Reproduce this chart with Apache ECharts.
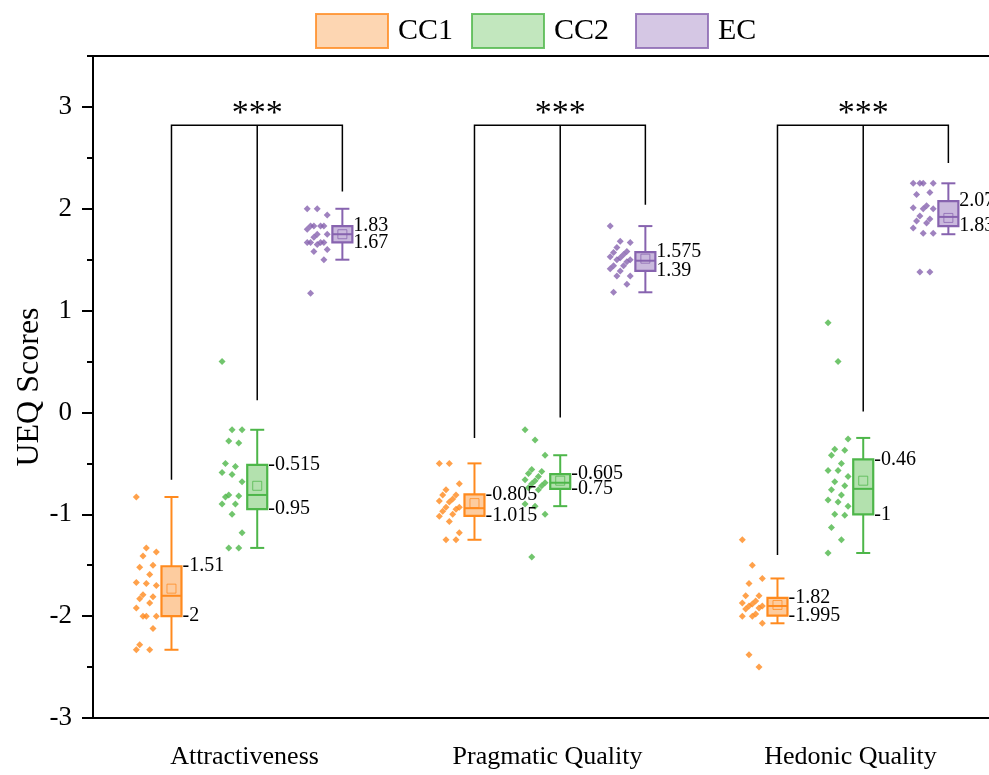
<!DOCTYPE html>
<html><head><meta charset="utf-8">
<script src="https://cdn.jsdelivr.net/npm/echarts@6/dist/echarts.min.js"></script>
<style>html,body{margin:0;padding:0;background:#fff}#c{width:989px;height:775px}</style>
</head><body><div id="c"></div>
<script>
// ---------- data ----------
const categories = ['Attractiveness', 'Pragmatic Quality', 'Hedonic Quality'];
const groups = ['CC1', 'CC2', 'EC'];
const yTickValues = [-3, -2, -1, 0, 1, 2, 3];
const yMinorValues = [-2.5, -1.5, -0.5, 0.5, 1.5, 2.5, 3.5];

// box stats per category: [whiskerLow, Q1, median, Q3, whiskerHigh]
const cc1Box = [[-2.33, -2, -1.8, -1.51, -0.83], [-1.25, -1.015, -0.94, -0.805, -0.5], [-2.07, -1.995, -1.9, -1.82, -1.63]];
const cc2Box = [[-1.33, -0.95, -0.81, -0.515, -0.17], [-0.92, -0.75, -0.69, -0.605, -0.42], [-1.38, -1, -0.75, -0.46, -0.25]];
const ecBox  = [[1.5, 1.67, 1.75, 1.83, 2.0], [1.18, 1.39, 1.49, 1.575, 1.83], [1.75, 1.83, 1.92, 2.075, 2.25]];
const cc1Mean = [-1.73, -0.89, -1.89];
const cc2Mean = [-0.72, -0.67, -0.67];
const ecMean  = [1.75, 1.51, 1.91];

// individual scores per category
const cc1Points = [
  [-0.83, -1.33, -1.37, -1.41, -1.5, -1.52, -1.59, -1.67, -1.68, -1.70, -1.79, -1.81, -1.83, -1.87, -1.92, -2.0, -2.0, -2.0, -2.12, -2.28, -2.33, -2.33],
  [-0.5, -0.5, -0.70, -0.76, -0.81, -0.81, -0.85, -0.87, -0.88, -0.93, -0.93, -0.95, -0.97, -1.0, -1.02, -1.07, -1.18, -1.25, -1.25],
  [-1.25, -1.5, -1.63, -1.68, -1.80, -1.80, -1.85, -1.87, -1.88, -1.90, -1.90, -1.92, -1.93, -1.98, -2.0, -2.0, -2.07, -2.38, -2.5]
];
const cc2Points = [
  [0.5, -0.17, -0.17, -0.28, -0.30, -0.50, -0.53, -0.59, -0.61, -0.68, -0.81, -0.82, -0.83, -0.90, -0.90, -1.0, -1.18, -1.33, -1.33],
  [-0.17, -0.27, -0.42, -0.56, -0.58, -0.60, -0.63, -0.66, -0.67, -0.69, -0.70, -0.72, -0.74, -0.76, -0.9, -0.92, -1.0, -1.42],
  [0.88, 0.5, -0.26, -0.36, -0.37, -0.42, -0.5, -0.57, -0.57, -0.63, -0.68, -0.72, -0.76, -0.81, -0.86, -0.88, -0.92, -1.0, -1.01, -1.13, -1.25, -1.38]
];
const ecPoints = [
  [2.0, 2.0, 1.94, 1.83, 1.83, 1.83, 1.83, 1.80, 1.75, 1.75, 1.72, 1.67, 1.67, 1.67, 1.67, 1.65, 1.60, 1.58, 1.5, 1.17],
  [1.83, 1.68, 1.67, 1.62, 1.58, 1.57, 1.55, 1.53, 1.52, 1.50, 1.50, 1.48, 1.44, 1.44, 1.41, 1.39, 1.34, 1.34, 1.26, 1.18],
  [2.25, 2.25, 2.25, 2.25, 2.16, 2.14, 2.03, 2.01, 2.0, 2.0, 1.93, 1.9, 1.88, 1.86, 1.81, 1.76, 1.76, 1.38, 1.38]
];

// significance brackets: lower ends of the drop lines (CC1, CC2, EC) and bracket height
const bracketEnds = [[-0.66, 0.12, 2.17], [-0.25, -0.05, 2.04], [-1.40, 0.01, 2.45]];
const bracketTop = 2.82;
const sigLabels = ['***', '***', '***'];

// ---------- style ----------
const FONT = "'Liberation Serif', 'Times New Roman', serif";
const strokes = ['#FF8A1E', '#4DB649', '#8763AF'];
const fills = ['#FDCC9F', '#B3E1AE', '#CAB9DD'];
const boxOffsets = [-0.241, 0.042, 0.323];
const scatterShift = -0.083;
const legendLefts = [315, 471, 635];

const boxes = [cc1Box, cc2Box, ecBox];
const means = [cc1Mean, cc2Mean, ecMean];
const points = [cc1Points, cc2Points, ecPoints];

function boxRender(stroke, fill) {
  return function (params, api) {
    const x = api.value(0);
    const pLo = api.coord([x, api.value(1)]);
    const pQ1 = api.coord([x, api.value(2)]);
    const pMd = api.coord([x, api.value(3)]);
    const pQ3 = api.coord([x, api.value(4)]);
    const pHi = api.coord([x, api.value(5)]);
    const pMn = api.coord([x, api.value(6)]);
    const cx = pLo[0], bw = 20, cw = 14;
    const ls = { stroke: stroke, lineWidth: 2 };
    const txt = (t, y) => ({ type: 'text', z2: 5, style: { text: t, x: cx + bw / 2 + 1, y: y, align: 'left', verticalAlign: 'middle', fill: '#000', fontSize: 20, fontFamily: FONT } });
    return {
      type: 'group', children: [
        { type: 'line', shape: { x1: cx, y1: pQ3[1], x2: cx, y2: pHi[1] }, style: ls },
        { type: 'line', shape: { x1: cx - cw / 2, y1: pHi[1], x2: cx + cw / 2, y2: pHi[1] }, style: ls },
        { type: 'line', shape: { x1: cx, y1: pQ1[1], x2: cx, y2: pLo[1] }, style: ls },
        { type: 'line', shape: { x1: cx - cw / 2, y1: pLo[1], x2: cx + cw / 2, y2: pLo[1] }, style: ls },
        { type: 'rect', shape: { x: cx - bw / 2, y: pQ3[1], width: bw, height: pQ1[1] - pQ3[1] }, style: { fill: fill, stroke: stroke, lineWidth: 2.2 } },
        { type: 'line', shape: { x1: cx - bw / 2, y1: pMd[1], x2: cx + bw / 2, y2: pMd[1] }, style: ls },
        { type: 'rect', shape: { x: cx - 4.5, y: pMn[1] - 4.5, width: 9, height: 9 }, style: { fill: 'none', stroke: stroke, lineWidth: 1, opacity: 0.75 } },
        txt(String(api.value(4)), pQ3[1]),
        txt(String(api.value(2)), pQ1[1])
      ]
    };
  };
}

const series = [];
groups.forEach((g, gi) => {
  const scatterData = [];
  points[gi].forEach((arr, ci) => {
    arr.forEach((v, i) => {
      const jit = (((i * 3) % 7) - 3) * 0.011;
      scatterData.push([ci + 1 + boxOffsets[gi] + scatterShift + jit, v]);
    });
  });
  series.push({
    name: g, type: 'scatter', xAxisIndex: 1, yAxisIndex: 0,
    symbol: 'diamond', symbolSize: 7,
    itemStyle: { color: strokes[gi] },
    data: scatterData, z: 3
  });
  series.push({
    name: g, type: 'custom', xAxisIndex: 1, yAxisIndex: 0,
    renderItem: boxRender(strokes[gi], fills[gi]),
    itemStyle: { color: fills[gi], borderColor: strokes[gi] },
    data: boxes[gi].map((b, ci) => [ci + 1 + boxOffsets[gi], b[0], b[1], b[2], b[3], b[4], means[gi][ci]]),
    clip: false, z: 4
  });
});

series.push({
  name: 'bracket', type: 'custom', xAxisIndex: 1, yAxisIndex: 0,
  renderItem: function (params, api) {
    const c = api.value(0);
    const x = boxOffsets.map(o => api.coord([c + o, bracketTop])[0]);
    const top = api.coord([c, api.value(4)])[1];
    const e = [1, 2, 3].map(k => api.coord([c, api.value(k)])[1]);
    const ls = { stroke: '#000', lineWidth: 1.5, fill: 'none' };
    return {
      type: 'group', children: [
        { type: 'polyline', shape: { points: [[x[0], e[0]], [x[0], top], [x[2], top], [x[2], e[2]]] }, style: ls },
        { type: 'line', shape: { x1: x[1], y1: top, x2: x[1], y2: e[1] }, style: ls },
        { type: 'text', style: { text: sigLabels[params.dataIndex], x: x[1], y: top + 6, align: 'center', verticalAlign: 'bottom', fill: '#000', fontSize: 34, fontFamily: FONT } }
      ]
    };
  },
  data: bracketEnds.map((e, ci) => [ci + 1, e[0], e[1], e[2], bracketTop]),
  clip: false, z: 2, silent: true
});

const chart = echarts.init(document.getElementById('c'), null, { renderer: 'canvas' });
chart.setOption({
  animation: false,
  backgroundColor: '#fff',
  textStyle: { fontFamily: FONT },
  legend: groups.map((g, gi) => ({
    left: legendLefts[gi], top: 13, padding: 0,
    itemWidth: 72, itemHeight: 34,
    icon: 'rect', selectedMode: false,
    textStyle: { fontSize: 30, fontFamily: FONT, color: '#000', padding: [0, 0, 0, 5] },
    data: [{ name: g, icon: 'rect', itemStyle: { color: fills[gi], borderColor: strokes[gi], borderWidth: 2 } }]
  })),
  grid: { left: 93, top: 56, width: 909, height: 662, containLabel: false, outerBoundsMode: 'none' },
  xAxis: [
    {
      type: 'category', data: categories, position: 'bottom', boundaryGap: true,
      axisLine: { onZero: false, lineStyle: { color: '#000', width: 2 } },
      axisTick: { alignWithLabel: true, length: 11, lineStyle: { color: '#000', width: 2 } },
      axisLabel: { color: '#000', fontSize: 26, fontFamily: FONT, margin: 26 },
      splitLine: { show: false }
    },
    {
      type: 'value', min: 0.5, max: 3.5, position: 'top',
      axisLine: { show: true, onZero: false, lineStyle: { color: '#000', width: 2 } },
      axisTick: { show: false }, axisLabel: { show: false }, splitLine: { show: false }
    }
  ],
  yAxis: [
    {
      type: 'value', min: -3, max: 3.5, position: 'left',
      name: 'UEQ Scores', nameLocation: 'middle', nameGap: 47, nameMoveOverlap: false,
      nameTextStyle: { fontSize: 32, fontFamily: FONT, color: '#000' },
      axisLine: { show: true, onZero: false, lineStyle: { color: '#000', width: 2 } },
      axisTick: { length: 11, customValues: yTickValues, lineStyle: { color: '#000', width: 2 } },
      axisLabel: { customValues: yTickValues, color: '#000', fontSize: 27, fontFamily: FONT, margin: 21 },
      splitLine: { show: false }
    },
    {
      type: 'value', min: -3, max: 3.5, position: 'left',
      axisLine: { show: false, onZero: false },
      axisTick: { length: 6, customValues: yMinorValues, lineStyle: { color: '#000', width: 2 } },
      axisLabel: { show: false },
      splitLine: { show: false }
    }
  ],
  series: series
});
</script></body></html>
